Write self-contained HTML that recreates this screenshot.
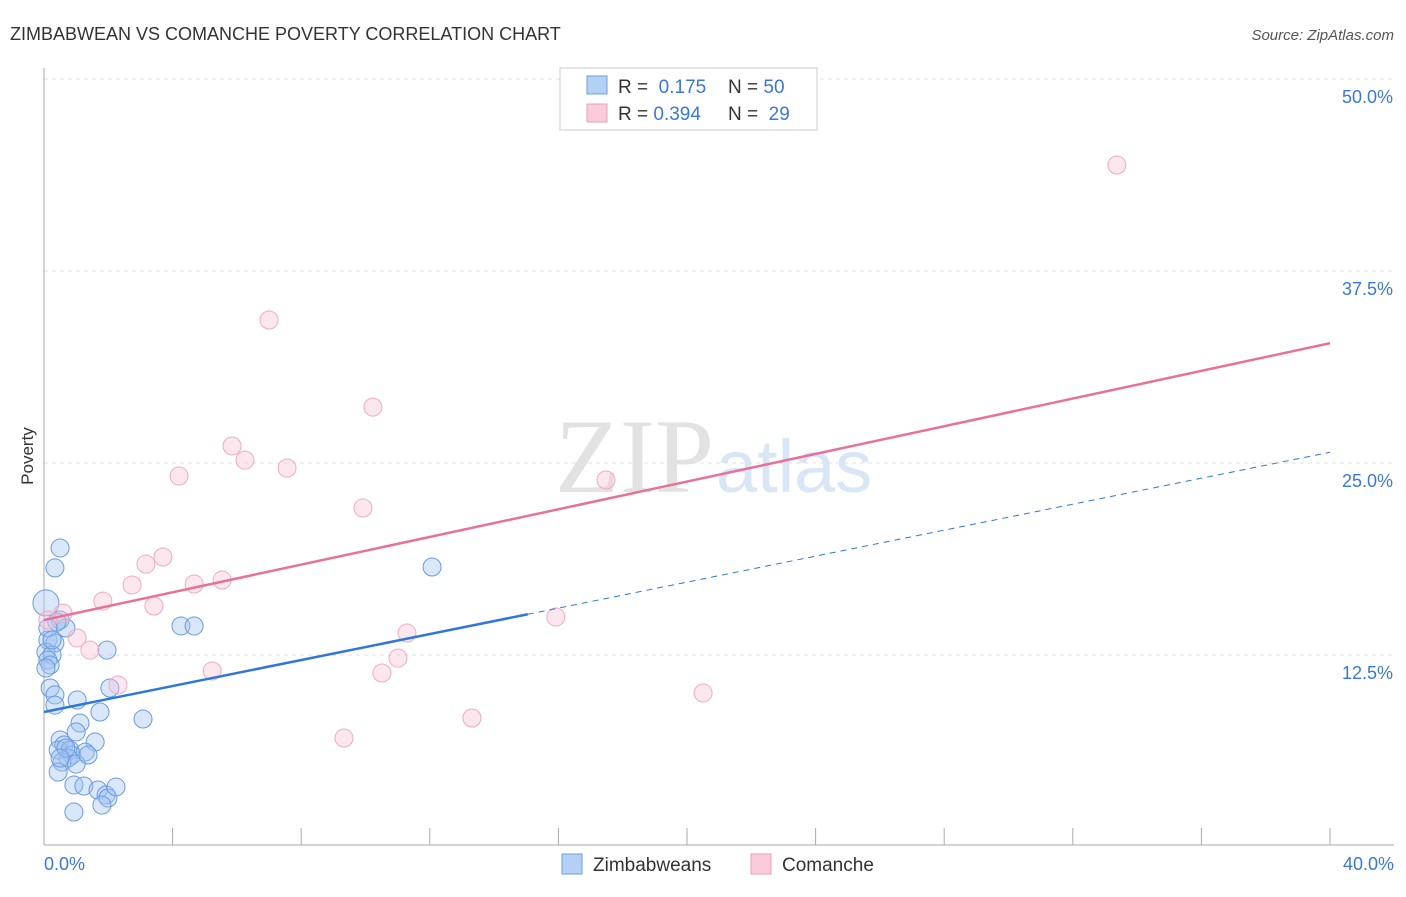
<!DOCTYPE html>
<html><head><meta charset="utf-8"><style>
body{margin:0;background:#fff;font-family:"Liberation Sans",sans-serif}
</style></head><body>
<svg id="c" width="1406" height="892" xmlns="http://www.w3.org/2000/svg">
<text x="10" y="40" font-size="18" fill="#333">ZIMBABWEAN VS COMANCHE POVERTY CORRELATION CHART</text>
<text x="1394" y="40" font-size="15" fill="#555" font-style="italic" text-anchor="end">Source: ZipAtlas.com</text>
<text x="714" y="492" font-size="106" fill="#e2e2e2" text-anchor="end" font-family="Liberation Serif,serif">ZIP</text>
<text x="716" y="492" font-size="74" fill="#d8e6f6">atlas</text>
<text x="33" y="456" font-size="17" fill="#333" text-anchor="middle" transform="rotate(-90 33 456)">Poverty</text>
<g id="grid"></g><g id="axes"></g><g id="pts"></g><g id="lines"></g>
<g>
<rect x="560" y="68" width="257" height="62" fill="#fff" stroke="#ccc"/>
<rect x="587" y="76" width="20" height="18" fill="#b5d0f5" stroke="#6a9ee0"/>
<rect x="587" y="104" width="20" height="18" fill="#fbcadb" stroke="#eaa0bb"/>
<text x="618" y="93" font-size="19" fill="#333">R = <tspan fill="#3a78d8">&#160;0.175</tspan><tspan x="728">N = </tspan><tspan fill="#3a78d8">50</tspan></text>
<text x="618" y="120" font-size="19" fill="#333">R = <tspan fill="#3a78d8">0.394</tspan><tspan x="728">N = </tspan><tspan fill="#3a78d8">&#160;29</tspan></text>
</g>
<g>
<rect x="562" y="854" width="20" height="20" fill="#b5d0f5" stroke="#6a9ee0"/>
<text x="593" y="871" font-size="19" fill="#333">Zimbabweans</text>
<rect x="751" y="854" width="20" height="20" fill="#fbcadb" stroke="#eaa0bb"/>
<text x="782" y="871" font-size="19" fill="#333">Comanche</text>
</g>
</svg>
<script>
const yTicks=[12.5,25,37.5,50];
const yTickLabels=["12.5%","25.0%","37.5%","50.0%"];
const xTickLabels=["0.0%","40.0%"];
const blueX=[0.50,0.34,0.06,0.50,0.68,0.40,0.12,0.34,0.06,0.25,0.12,0.19,0.06,1.96,0.19,0.34,0.34,1.03,2.05,1.74,1.12,1.00,1.59,0.50,0.62,0.44,0.81,0.87,1.28,0.75,0.56,1.00,0.44,0.93,1.24,1.68,1.93,1.99,2.24,1.80,0.93,3.08,4.26,4.67,12.07,0.12,0.25,0.68,1.37,0.50];
const blueY=[19.47,18.17,15.89,14.78,14.26,14.65,13.48,13.28,12.69,12.50,12.17,11.85,11.65,12.82,10.35,9.90,9.24,9.57,10.35,8.79,8.07,7.49,6.84,6.97,6.64,6.31,6.31,5.99,6.18,5.79,5.53,5.40,4.88,4.04,3.97,3.71,3.39,3.19,3.91,2.73,2.28,8.33,14.39,14.39,18.23,14.26,13.48,6.44,5.99,5.79];
const pinkX=[33.37,7.00,10.23,5.85,6.25,7.56,4.20,17.48,9.92,3.70,3.17,5.54,4.67,2.74,1.83,3.42,0.59,15.92,0.12,11.29,1.03,1.43,11.01,5.23,10.51,2.30,20.50,13.31,9.33];
const pinkY=[44.40,34.31,28.64,26.11,25.19,24.67,24.15,23.89,22.07,18.88,18.42,17.38,17.12,17.06,16.01,15.69,15.23,14.97,14.78,13.93,13.61,12.82,12.30,11.46,11.33,10.55,10.03,8.40,7.10];
const blueLine=[8.79,25.7]; const blueSolidEnd=15.05;
const pinkLine=[14.78,32.8];
const X=v=>44+v/40*1286, Y=v=>847-v/12.5*192;
const NS="http://www.w3.org/2000/svg";
function mk(p,t,a){const e=document.createElementNS(NS,t);for(const k in a)e.setAttribute(k,a[k]);document.getElementById(p).appendChild(e);return e;}
yTicks.forEach((t,i)=>{
 const g=mk('grid','line',{x1:44,x2:1394,y1:Y(t),y2:Y(t),stroke:'#e0e0e0','stroke-dasharray':'4,4'});
 
 
 const l=mk('grid','text',{x:1393,y:Y(t)+24,'font-size':18,fill:'#3a78d8','text-anchor':'end'});l.textContent=yTickLabels[i];
 
 
});
mk('axes','line',{x1:44,x2:44,y1:68,y2:845,stroke:'#aaa'});
mk('axes','line',{x1:44,x2:1394,y1:845,y2:845,stroke:'#aaa'});
for(let i=1;i<=10;i++){const t=mk('axes','line',{x1:X(i*4),x2:X(i*4),y1:828,y2:845,stroke:'#aaa'});
 
 }
[[0,'start',44],[40,'end',1394]].forEach((d,i)=>{const l=mk('axes','text',{x:d[2],y:870,'font-size':18,fill:'#3a78d8','text-anchor':d[1]});l.textContent=xTickLabels[i];
 
 });
blueX.forEach((x,i)=>{const c=mk('pts','circle',{cx:X(x),cy:Y(blueY[i]),r:i==2?13:9,fill:'rgba(160,196,240,0.4)',stroke:'#6a9ae0','stroke-width':1});
 
 });
pinkX.forEach((x,i)=>{const c=mk('pts','circle',{cx:X(x),cy:Y(pinkY[i]),r:9,fill:'rgba(248,196,214,0.4)',stroke:'#eeaac2','stroke-width':1});
 
 });
const by=x=>blueLine[0]+(blueLine[1]-blueLine[0])*x/40;
const b1=mk('lines','line',{x1:X(0),y1:Y(by(0)),x2:X(blueSolidEnd),y2:Y(by(blueSolidEnd)),stroke:'#2f77d8','stroke-width':2.5});


const b2=mk('lines','line',{x1:X(blueSolidEnd),y1:Y(by(blueSolidEnd)),x2:X(40),y2:Y(by(40)),stroke:'#2f77d8','stroke-width':1,'stroke-dasharray':'6,5'});


const p1=mk('lines','line',{x1:X(0),y1:Y(pinkLine[0]),x2:X(40),y2:Y(pinkLine[1]),stroke:'#e8709a','stroke-width':2.5});


</script>
</body></html>
